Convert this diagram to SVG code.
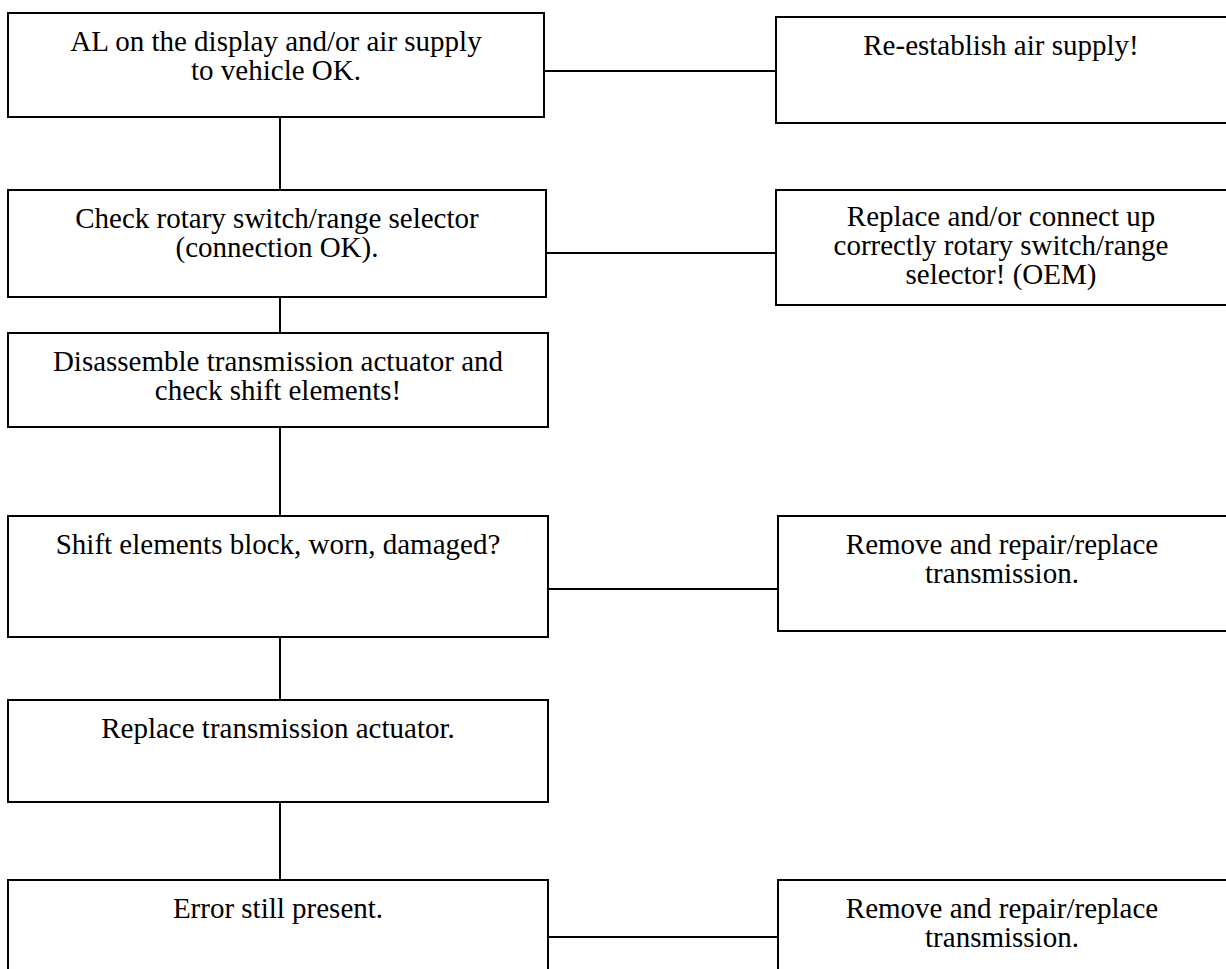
<svg xmlns="http://www.w3.org/2000/svg" width="1226" height="969" viewBox="0 0 1226 969">
<style>
rect.b{fill:#fff;stroke:#000;stroke-width:2}
.c line{stroke:#000;stroke-width:2}
text{font-family:"Liberation Serif","Times New Roman",serif;font-size:29px;fill:#000;text-anchor:middle}
</style>
<rect width="1226" height="969" fill="#fff"/>
<g class="c" id="connectors">
<line x1="280" y1="117" x2="280" y2="190"/>
<line x1="280" y1="297" x2="280" y2="333"/>
<line x1="280" y1="427" x2="280" y2="516"/>
<line x1="280" y1="637" x2="280" y2="700"/>
<line x1="280" y1="802" x2="280" y2="880"/>
<line x1="544" y1="71" x2="776" y2="71"/>
<line x1="546" y1="253" x2="776" y2="253"/>
<line x1="548" y1="589" x2="778" y2="589"/>
<line x1="548" y1="937" x2="778" y2="937"/>
</g>
<g id="n1"><rect class="b" x="8" y="13" width="536" height="104"/><text x="276" y="51">AL on the display and/or air supply</text><text x="276" y="80">to vehicle OK.</text></g>
<g id="n1r"><rect class="b" x="776" y="17" width="460" height="106"/><text x="1001" y="55">Re-establish air supply!</text></g>
<g id="n2"><rect class="b" x="8" y="190" width="538" height="107"/><text x="277" y="228">Check rotary switch/range selector</text><text x="277" y="257">(connection OK).</text></g>
<g id="n2r"><rect class="b" x="776" y="190" width="460" height="115"/><text x="1001" y="226">Replace and/or connect up</text><text x="1001" y="255">correctly rotary switch/range</text><text x="1001" y="284">selector! (OEM)</text></g>
<g id="n3"><rect class="b" x="8" y="333" width="540" height="94"/><text x="278" y="371">Disassemble transmission actuator and</text><text x="278" y="400">check shift elements!</text></g>
<g id="n4"><rect class="b" x="8" y="516" width="540" height="121"/><text x="278" y="554">Shift elements block, worn, damaged?</text></g>
<g id="n4r"><rect class="b" x="778" y="516" width="460" height="115"/><text x="1002" y="554">Remove and repair/replace</text><text x="1002" y="583">transmission.</text></g>
<g id="n5"><rect class="b" x="8" y="700" width="540" height="102"/><text x="278" y="738">Replace transmission actuator.</text></g>
<g id="n6"><rect class="b" x="8" y="880" width="540" height="120"/><text x="278" y="918">Error still present.</text></g>
<g id="n6r"><rect class="b" x="778" y="880" width="460" height="120"/><text x="1002" y="918">Remove and repair/replace</text><text x="1002" y="947">transmission.</text></g>
</svg>
